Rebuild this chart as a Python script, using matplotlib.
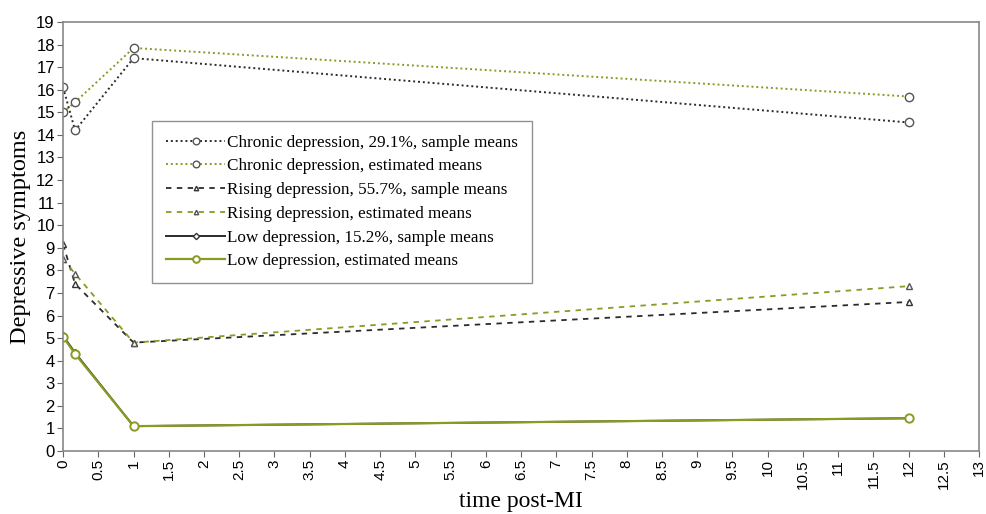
import matplotlib
matplotlib.use("Agg")
import matplotlib.pyplot as plt
import numpy as np

time = [0, 0.17, 1, 12]
chronic_sample = [16.1, 14.2, 17.4, 14.55]
chronic_est = [15.0, 15.45, 17.85, 15.7]
rising_sample = [9.15, 7.4, 4.8, 6.6]
rising_est = [8.5, 7.85, 4.8, 7.3]
low_sample = [5.1, 4.35, 1.1, 1.45]
low_est = [5.05, 4.3, 1.1, 1.45]

labels = ["Chronic depression, 29.1%, sample means",
          "Chronic depression, estimated means",
          "Rising depression, 55.7%, sample means",
          "Rising depression, estimated means",
          "Low depression, 15.2%, sample means",
          "Low depression, estimated means"]

xticks = np.arange(0, 13.01, 0.5)
yticks = np.arange(0, 20, 1)

dark = "#2b2b2b"
olive = "#8a9a22"

fig = plt.figure(figsize=(9.86, 5.14), dpi=100)
ax = fig.add_axes([0.064, 0.1226, 0.929, 0.8346])

ax.plot(time, chronic_sample, color=dark, ls=(0, (1, 1.5)), lw=1.4, marker='o', ms=6, mfc='white', mec='#555555', mew=1.0, label=labels[0])
ax.plot(time, chronic_est, color=olive, ls=(0, (1, 1.5)), lw=1.4, marker='o', ms=6, mfc='white', mec='#555555', mew=1.0, label=labels[1])
ax.plot(time, rising_sample, color=dark, ls=(0, (3, 3)), lw=1.3, marker='^', ms=4, mfc='white', mec='#333333', mew=1.0, label=labels[2])
ax.plot(time, rising_est, color=olive, ls=(0, (3, 3)), lw=1.3, marker='^', ms=4, mfc='white', mec='#555555', mew=1.0, label=labels[3])
ax.plot(time, low_sample, color=dark, ls='-', lw=1.4, marker='D', ms=4, mfc='white', mec='#333333', mew=1.0, label=labels[4])
ax.plot(time, low_est, color=olive, ls='-', lw=1.6, marker='o', ms=6, mfc='white', mec=olive, mew=1.4, label=labels[5])

ax.set_xlim(0, 13)
ax.set_ylim(0, 19)
ax.set_xticks(xticks)
ax.set_xticklabels([f"{v:g}" for v in xticks], rotation=90, family="Liberation Sans", fontsize=11)
ax.set_yticks(yticks)
ax.set_yticklabels([str(v) for v in yticks], family="Liberation Sans", fontsize=12)
for s in ax.spines.values():
    s.set_color("#888888")
    s.set_linewidth(1.2)
ax.tick_params(axis='both', direction='out', length=4, color="#666666", pad=2)

ax.set_xlabel("time post-MI", family="Liberation Serif", fontsize=17)
ax.xaxis.set_label_coords(0.5, -0.094, transform=ax.transAxes)
ax.xaxis.label.set_va("top")
ax.set_ylabel("Depressive symptoms", family="Liberation Serif", fontsize=17.5, labelpad=4)

leg = ax.legend(loc="upper left", bbox_to_anchor=(0.097, 0.769), prop={"family": "Liberation Serif", "size": 12.3},
                frameon=True, fancybox=False, edgecolor="#777777", handlelength=3.5, handletextpad=0.1,
                borderpad=0.8, labelspacing=0.45, markerscale=0.8, borderaxespad=0)
leg.get_frame().set_linewidth(1.0)

fig.savefig("out.png", dpi=100)
